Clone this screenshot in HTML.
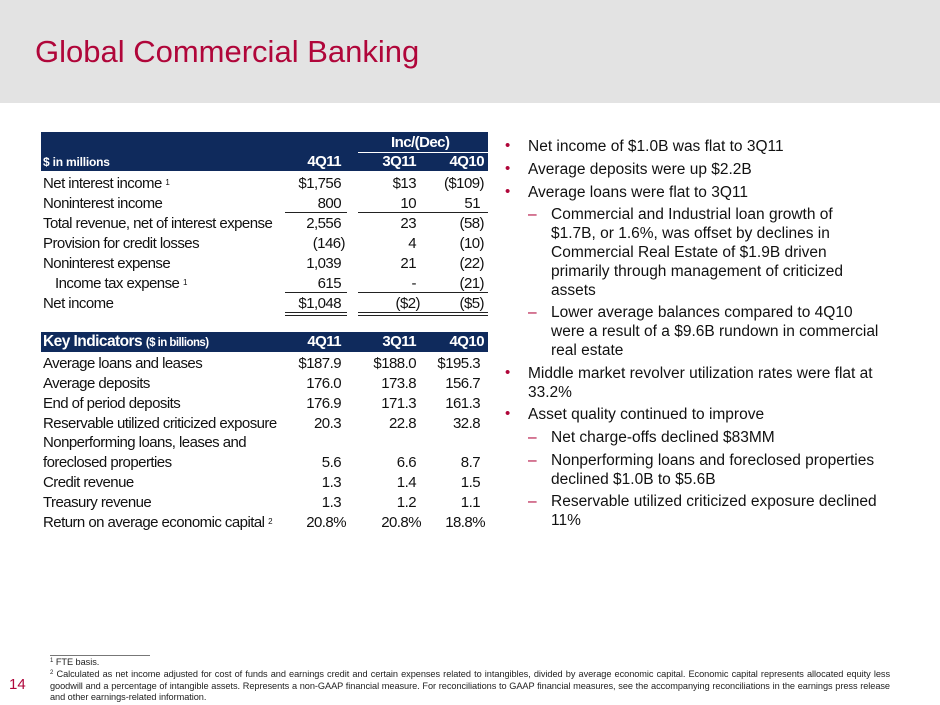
<!DOCTYPE html>
<html><head><meta charset="utf-8"><style>
*{margin:0;padding:0;box-sizing:border-box}
body{width:940px;height:705px;position:relative;background:#fff;font-family:"Liberation Sans",Arial,sans-serif;overflow:hidden;color:#111}
.a{position:absolute;white-space:nowrap}
.hdr{position:absolute;left:0;top:0;width:940px;height:103px;background:#e3e3e3}
.title{left:35px;top:34px;font-size:31px;color:#b0063a}
.bar{position:absolute;background:#0f2a5c}
.t{font-size:15px;letter-spacing:-0.55px;line-height:18px;height:18px}
.w{color:#fff;font-weight:bold}
.r{text-align:right;width:100px}
.ln{position:absolute;height:1px;background:#222}
.b{font-size:15.5px;line-height:19px;color:#111}
.dot{color:#b0063a;font-size:15px}
.dash{color:#b0063a}
sup{font-size:8px;vertical-align:top;position:relative;top:-1px;letter-spacing:0}
.fn{font-size:9.2px;color:#222;line-height:11.5px;left:50px;width:840px;white-space:normal;text-align:justify;letter-spacing:-0.05px}
</style></head><body>
<div class="hdr"></div>
<div class="a title">Global Commercial Banking</div>

<!-- table 1 -->
<div class="bar" style="left:41px;top:132px;width:447px;height:39px"></div>
<div class="a t w" style="left:391px;top:134px;font-size:15px;">Inc/(Dec)</div>
<div class="ln" style="left:358px;top:152px;width:130px;background:#fff"></div>
<div class="a t w" style="left:43px;top:153px;font-size:12px;letter-spacing:-0.2px">$ in millions</div>
<div class="a t w r" style="left:241px;top:153px">4Q11</div>
<div class="a t w r" style="left:316px;top:153px">3Q11</div>
<div class="a t w r" style="left:384px;top:153px">4Q10</div>

<div class="a t" style="left:43px;top:175px">Net interest income <sup>1</sup></div>
<div class="a t r" style="left:241px;top:175px">$1,756</div>
<div class="a t r" style="left:316px;top:175px">$13</div>
<div class="a t r" style="left:384px;top:175px">($109)</div>

<div class="a t" style="left:43px;top:195px">Noninterest income</div>
<div class="a t r" style="left:241px;top:195px">800</div>
<div class="a t r" style="left:316px;top:195px">10</div>
<div class="a t r" style="left:380px;top:195px">51</div>
<div class="ln" style="left:285px;top:212px;width:62px"></div>
<div class="ln" style="left:358px;top:212px;width:130px"></div>

<div class="a t" style="left:43px;top:215px">Total revenue, net of interest expense</div>
<div class="a t r" style="left:241px;top:215px">2,556</div>
<div class="a t r" style="left:316px;top:215px">23</div>
<div class="a t r" style="left:384px;top:215px">(58)</div>

<div class="a t" style="left:43px;top:235px">Provision for credit losses</div>
<div class="a t r" style="left:245px;top:235px">(146)</div>
<div class="a t r" style="left:316px;top:235px">4</div>
<div class="a t r" style="left:384px;top:235px">(10)</div>

<div class="a t" style="left:43px;top:255px">Noninterest expense</div>
<div class="a t r" style="left:241px;top:255px">1,039</div>
<div class="a t r" style="left:316px;top:255px">21</div>
<div class="a t r" style="left:384px;top:255px">(22)</div>

<div class="a t" style="left:55px;top:275px">Income tax expense <sup>1</sup></div>
<div class="a t r" style="left:241px;top:275px">615</div>
<div class="a t r" style="left:316px;top:275px">-</div>
<div class="a t r" style="left:384px;top:275px">(21)</div>
<div class="ln" style="left:285px;top:292px;width:62px"></div>
<div class="ln" style="left:358px;top:292px;width:130px"></div>

<div class="a t" style="left:43px;top:295px">Net income</div>
<div class="a t r" style="left:241px;top:295px">$1,048</div>
<div class="a t r" style="left:320px;top:295px">($2)</div>
<div class="a t r" style="left:384px;top:295px">($5)</div>
<div class="ln" style="left:285px;top:312px;width:62px"></div>
<div class="ln" style="left:358px;top:312px;width:130px"></div>
<div class="ln" style="left:285px;top:315px;width:62px"></div>
<div class="ln" style="left:358px;top:315px;width:130px"></div>

<!-- table 2 -->
<div class="bar" style="left:41px;top:332px;width:447px;height:20px"></div>
<div class="a t w" style="left:43px;top:333px;font-size:15.5px">Key Indicators <span style="font-size:11.5px">($ in billions)</span></div>
<div class="a t w r" style="left:241px;top:333px">4Q11</div>
<div class="a t w r" style="left:316px;top:333px">3Q11</div>
<div class="a t w r" style="left:384px;top:333px">4Q10</div>

<div class="a t" style="left:43px;top:355px">Average loans and leases</div>
<div class="a t r" style="left:241px;top:355px">$187.9</div>
<div class="a t r" style="left:316px;top:355px">$188.0</div>
<div class="a t r" style="left:380px;top:355px">$195.3</div>

<div class="a t" style="left:43px;top:375px">Average deposits</div>
<div class="a t r" style="left:241px;top:375px">176.0</div>
<div class="a t r" style="left:316px;top:375px">173.8</div>
<div class="a t r" style="left:380px;top:375px">156.7</div>

<div class="a t" style="left:43px;top:395px">End of period deposits</div>
<div class="a t r" style="left:241px;top:395px">176.9</div>
<div class="a t r" style="left:316px;top:395px">171.3</div>
<div class="a t r" style="left:380px;top:395px">161.3</div>

<div class="a t" style="left:43px;top:415px">Reservable utilized criticized exposure</div>
<div class="a t r" style="left:241px;top:415px">20.3</div>
<div class="a t r" style="left:316px;top:415px">22.8</div>
<div class="a t r" style="left:380px;top:415px">32.8</div>

<div class="a t" style="left:43px;top:434px">Nonperforming loans, leases and</div>
<div class="a t" style="left:43px;top:454px">foreclosed properties</div>
<div class="a t r" style="left:241px;top:454px">5.6</div>
<div class="a t r" style="left:316px;top:454px">6.6</div>
<div class="a t r" style="left:380px;top:454px">8.7</div>

<div class="a t" style="left:43px;top:474px">Credit revenue</div>
<div class="a t r" style="left:241px;top:474px">1.3</div>
<div class="a t r" style="left:316px;top:474px">1.4</div>
<div class="a t r" style="left:380px;top:474px">1.5</div>

<div class="a t" style="left:43px;top:494px">Treasury revenue</div>
<div class="a t r" style="left:241px;top:494px">1.3</div>
<div class="a t r" style="left:316px;top:494px">1.2</div>
<div class="a t r" style="left:380px;top:494px">1.1</div>

<div class="a t" style="left:43px;top:514px">Return on average economic capital <sup>2</sup></div>
<div class="a t r" style="left:246px;top:514px">20.8%</div>
<div class="a t r" style="left:321px;top:514px">20.8%</div>
<div class="a t r" style="left:385px;top:514px">18.8%</div>

<!-- bullets -->
<div class="a dot" style="left:505px;top:137px">•</div><div class="a b" style="left:528px;top:137px">Net income of $1.0B was flat to 3Q11</div>
<div class="a dot" style="left:505px;top:160px">•</div><div class="a b" style="left:528px;top:160px">Average deposits were up $2.2B</div>
<div class="a dot" style="left:505px;top:183px">•</div><div class="a b" style="left:528px;top:183px">Average loans were flat to 3Q11</div>
<div class="a b dash" style="left:528px;top:205px">–</div>
<div class="a b" style="left:551px;top:205px">Commercial and Industrial loan growth of<br>$1.7B, or 1.6%, was offset by declines in<br>Commercial Real Estate of $1.9B driven<br>primarily through management of criticized<br>assets</div>
<div class="a b dash" style="left:528px;top:303px">–</div>
<div class="a b" style="left:551px;top:303px">Lower average balances compared to 4Q10<br>were a result of a $9.6B rundown in commercial<br>real estate</div>
<div class="a dot" style="left:505px;top:364px">•</div><div class="a b" style="left:528px;top:364px">Middle market revolver utilization rates were flat at<br>33.2%</div>
<div class="a dot" style="left:505px;top:405px">•</div><div class="a b" style="left:528px;top:405px">Asset quality continued to improve</div>
<div class="a b dash" style="left:528px;top:428px">–</div>
<div class="a b" style="left:551px;top:428px">Net charge-offs declined $83MM</div>
<div class="a b dash" style="left:528px;top:451px">–</div>
<div class="a b" style="left:551px;top:451px">Nonperforming loans and foreclosed properties<br>declined $1.0B to $5.6B</div>
<div class="a b dash" style="left:528px;top:492px">–</div>
<div class="a b" style="left:551px;top:492px">Reservable utilized criticized exposure declined<br>11%</div>

<!-- footnotes -->
<div class="ln" style="left:50px;top:655px;width:100px;background:#777"></div>
<div class="a" style="left:9px;top:676px;font-size:15px;color:#b0063a">14</div>
<div class="a fn" style="top:657px"><sup style="font-size:6px">1</sup> FTE basis.</div>
<div class="a fn" style="top:669px"><sup style="font-size:6px">2</sup> Calculated as net income adjusted for cost of funds and earnings credit and certain expenses related to intangibles, divided by average economic capital. Economic capital represents allocated equity less goodwill and a percentage of intangible assets. Represents a non-GAAP financial measure. For reconciliations to GAAP financial measures, see the accompanying reconciliations in the earnings press release and other earnings-related information.</div>
</body></html>
